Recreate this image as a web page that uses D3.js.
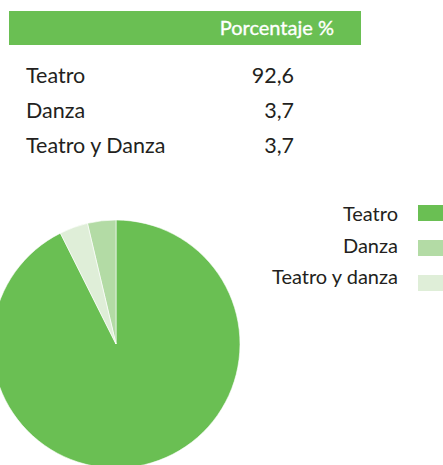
<!DOCTYPE html>
<html>
<head>
<meta charset="utf-8">
<script src="https://cdn.jsdelivr.net/npm/d3@7"></script>
<style>
  html, body { margin: 0; padding: 0; background: #fff; }
  svg { display: block; }
</style>
</head>
<body>
<div id="chart"></div>
<script>
// Data
const categories = ["Teatro", "Danza", "Teatro y Danza"];
const legendLabels = ["Teatro", "Danza", "Teatro y danza"];
const values = [92.6, 3.7, 3.7];
const colors = ["#6abf53", "#b3dba5", "#dfeed8"];
// clockwise order of slices starting at 12 o'clock
const sliceOrder = ["Teatro", "Teatro y Danza", "Danza"];
const headerLabel = "Porcentaje %";

const width = 443, height = 465;
const fmt = d3.formatLocale({ decimal: ",", thousands: ".", grouping: [3], currency: ["", "€"] }).format(".1f");
const font = "Lato, 'Open Sans', sans-serif";
const textColor = "#231f20";

const svg = d3.select("#chart")
    .append("svg")
    .attr("width", width)
    .attr("height", height)
    .attr("viewBox", [0, 0, width, height]);

// Table header bar
svg.append("rect")
    .attr("x", 9).attr("y", 11)
    .attr("width", 352).attr("height", 34)
    .attr("fill", "#6abf53");

svg.append("text")
    .attr("x", 334).attr("y", 35)
    .attr("text-anchor", "end")
    .attr("font-family", font)
    .attr("font-size", 20)
    .attr("fill", "#fff")
    .attr("stroke", "#fff")
    .attr("stroke-width", 0.35)
    .text(headerLabel);

// Table rows
const rowY = d3.scalePoint().domain(categories).range([83, 153]);

const rows = svg.append("g").attr("class", "table-rows")
    .attr("font-family", font)
    .attr("font-size", 21.5)
    .attr("fill", textColor);

rows.selectAll("text.cat")
    .data(categories)
    .join("text")
    .attr("class", "cat")
    .attr("x", 26)
    .attr("y", d => rowY(d))
    .text(d => d);

rows.selectAll("text.val")
    .data(values)
    .join("text")
    .attr("class", "val")
    .attr("x", 294)
    .attr("y", (d, i) => rowY(categories[i]))
    .attr("text-anchor", "end")
    .text(d => fmt(d));

// Pie
const color = d3.scaleOrdinal().domain(categories).range(colors);
const pieData = categories.map((c, i) => ({ cat: c, value: values[i] }));

const pie = d3.pie()
    .value(d => d.value)
    .sort((a, b) => sliceOrder.indexOf(a.cat) - sliceOrder.indexOf(b.cat));

const radius = 124;
const arc = d3.arc().innerRadius(0).outerRadius(radius);

const pieGroup = svg.append("g")
    .attr("transform", `translate(116,344)`);

pieGroup.selectAll("path")
    .data(pie(pieData))
    .join("path")
    .attr("d", arc)
    .attr("fill", d => color(d.data.cat))
    .attr("stroke", "#fff")
    .attr("stroke-width", 0.6);

// Legend
const swatchY = d3.scalePoint().domain(categories).range([205, 275]);
const labelY = d3.scalePoint().domain(categories).range([221, 284]);

const legend = svg.append("g").attr("class", "legend")
    .attr("font-family", font)
    .attr("font-size", 20)
    .attr("fill", textColor);

legend.selectAll("rect")
    .data(categories)
    .join("rect")
    .attr("x", 418)
    .attr("y", d => swatchY(d))
    .attr("width", 30)
    .attr("height", 16)
    .attr("fill", d => color(d));

legend.selectAll("text")
    .data(categories)
    .join("text")
    .attr("x", 398)
    .attr("y", d => labelY(d))
    .attr("text-anchor", "end")
    .text((d, i) => legendLabels[i]);
</script>
</body>
</html>
